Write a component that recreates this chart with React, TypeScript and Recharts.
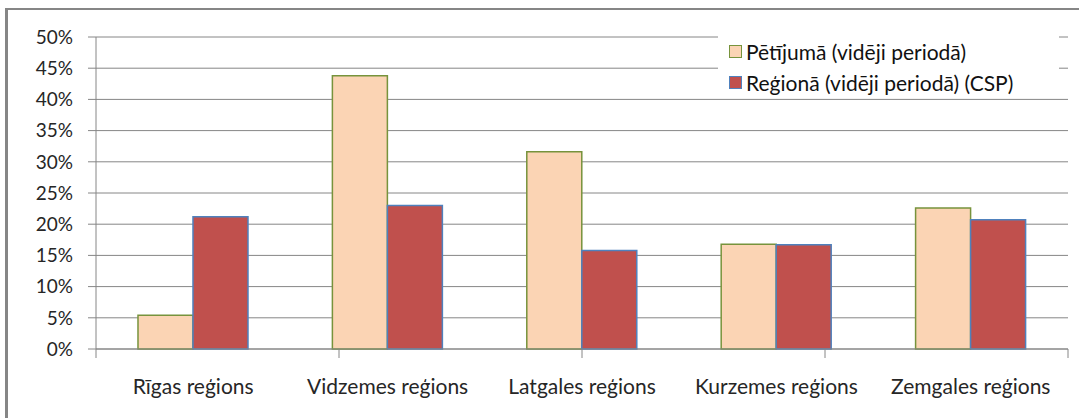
import React from "react"
import {
  BarChart,
  Bar,
  XAxis,
  YAxis,
  CartesianGrid,
} from "recharts"

const REGIONS = [
  "Rīgas reģions",
  "Vidzemes reģions",
  "Latgales reģions",
  "Kurzemes reģions",
  "Zemgales reģions",
]
const STUDY = [5.4, 43.8, 31.6, 16.8, 22.6]
const REGION_CSP = [21.2, 23.0, 15.8, 16.7, 20.7]
const Y_TICKS = [0, 5, 10, 15, 20, 25, 30, 35, 40, 45, 50]
const EDGE_TICKS = [0, 1, 2, 3, 4, 5]

const SERIES = [
  { key: "study", name: "Pētījumā (vidēji periodā)", fill: "#FBD4B4", stroke: "#77933C" },
  { key: "csp", name: "Reģionā (vidēji periodā) (CSP)", fill: "#C0504D", stroke: "#4F81BD" },
]

const FONT = "Lato, 'Open Sans', sans-serif"
const GRID = "#868686"
const TEXT = "#262626"

const data = REGIONS.map((name, i) => ({
  name,
  study: STUDY[i],
  csp: REGION_CSP[i],
}))

// legend sits over the gridlines in the top right, like the original
function LegendBox() {
  return (
    <div
      style={{
        position: "absolute",
        left: 718,
        top: 36,
        width: 330,
        padding: "0 0 0 11px",
        background: "#fff",
        fontFamily: FONT,
        fontSize: 21,
        color: "#111",
      }}
    >
      {SERIES.map((s) => (
        <div key={s.key} style={{ display: "flex", alignItems: "center", height: 31 }}>
          <span
            style={{
              display: "inline-block",
              width: 11,
              height: 11,
              background: s.fill,
              border: `1px solid ${s.stroke}`,
              marginRight: 4,
            }}
          />
          <span>{s.name}</span>
        </div>
      ))}
    </div>
  )
}

export default function App() {
  return (
    <div
      style={{
        position: "absolute",
        left: 0,
        top: 0,
        width: 1079,
        height: 418,
        background: "#fff",
      }}
    >
      <div
        style={{
          position: "absolute",
          left: 5,
          top: 8,
          right: 0,
          bottom: 0,
          borderLeft: `3px solid ${GRID}`,
          borderTop: `2px solid ${GRID}`,
        }}
      />
      <BarChart
        width={1079}
        height={418}
        data={data}
        margin={{ top: 37, right: 11, left: 0, bottom: 0 }}
        barCategoryGap="21.6%"
        barGap={0}
        style={{ position: "absolute", left: 0, top: 0 }}
      >
        <CartesianGrid vertical={false} stroke={GRID} xAxisId="names" />
        {/* numeric helper axis: draws the baseline and the category boundary ticks */}
        <XAxis
          xAxisId="base"
          type="number"
          domain={[0, 5]}
          allowDataOverflow
          ticks={EDGE_TICKS}
          height={9}
          axisLine={{ stroke: GRID }}
          tickSize={9}
          tickLine={{ stroke: GRID }}
          tickFormatter={() => ""}
        />
        <XAxis
          xAxisId="names"
          dataKey="name"
          height={60}
          axisLine={false}
          tickLine={false}
          tickMargin={15}
          tick={{ fontSize: 21, fill: TEXT, fontFamily: FONT }}
        />
        <YAxis
          width={96}
          domain={[0, 50]}
          ticks={Y_TICKS}
          tickFormatter={(v) => `${v}%`}
          axisLine={{ stroke: GRID }}
          tickLine={{ stroke: GRID }}
          tickSize={8}
          tickMargin={15}
          tick={{ fontSize: 19, fill: TEXT, fontFamily: FONT }}
        />
        {SERIES.map((s) => (
          <Bar
            key={s.key}
            xAxisId="names"
            dataKey={s.key}
            name={s.name}
            fill={s.fill}
            stroke={s.stroke}
            strokeWidth={1.5}
            isAnimationActive={false}
          />
        ))}
      </BarChart>
      <LegendBox />
    </div>
  )
}
